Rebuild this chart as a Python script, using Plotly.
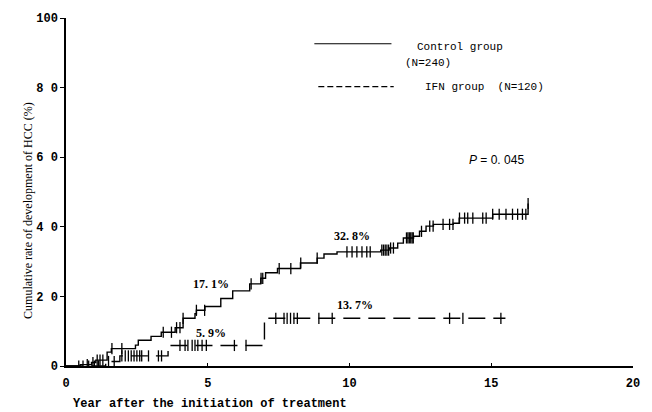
import plotly.graph_objects as go
import numpy as np

# Control group: step times (years) and cumulative rate (%) after each step
ctrl_t = [0, 0.5, 0.9, 1.05, 1.45, 1.6, 2.45, 2.55, 3.0, 3.36, 3.85, 4.13, 4.55, 4.6, 4.9,
          5.46, 5.88, 6.48, 6.87, 7.04, 7.46, 8.27, 8.86, 9.1, 9.56, 11.1, 11.4, 11.7, 11.9,
          12.26, 12.47, 12.7, 12.96, 13.66, 13.87, 15.05, 16.3]
ctrl_y = [0, 0.4, 1.0, 1.7, 4.0, 5.0, 6.0, 7.4, 8.5, 9.7, 11.0, 13.7, 15.0, 16.0, 17.1,
          19.4, 21.6, 23.6, 25.2, 26.8, 28.0, 29.6, 31.0, 32.2, 32.8, 33.3, 33.9, 35.3, 36.8,
          37.3, 38.7, 40.2, 40.7, 41.0, 42.5, 43.6, 46.7]
ctrl_cens = [0.45, 0.75, 0.95, 1.1, 1.2, 1.3, 1.62, 1.97, 3.43, 3.72, 3.9, 4.02, 4.13, 4.6, 4.89,
             6.53, 6.88, 6.94, 7.52, 7.93, 8.28, 8.86, 9.91, 10.09, 10.26, 10.44, 10.61, 10.73,
             11.14, 11.2, 11.26, 11.32, 11.38, 11.45, 11.55, 12.01, 12.06, 12.11, 12.16, 12.21,
             12.25, 12.54, 12.83, 12.95, 13.3, 13.53, 13.65, 13.88, 14.06, 14.17, 14.35, 14.7,
             14.82, 15.05, 15.28, 15.52, 15.75, 15.93, 16.1, 16.22, 16.3]

# IFN group
ifn_t = [0, 1.4, 1.9, 3.6, 7.0, 15.5]
ifn_y = [0, 1.3, 2.9, 5.9, 13.7, 13.7]
ifn_cens = [0.6, 0.8, 1.0, 1.15, 1.5, 1.7, 1.97, 2.09, 2.2, 2.3, 2.4, 2.5, 2.6, 2.67, 2.91,
            3.26, 3.37, 4.02, 4.2, 4.3, 4.45, 4.55, 4.65, 4.8, 4.95, 5.94, 6.35, 7.4, 7.69,
            7.8, 7.92, 8.04, 8.16, 8.92, 9.39, 13.53, 14.0, 15.34]

x_ticks = [0, 5, 10, 15, 20]
y_ticks = [0, 20, 40, 60, 80, 100]
y_ticktext = ['0', '2 0', '4 0', '6 0', '8 0', '100']


def step_value(ts, ys, t):
    i = np.searchsorted(ts, t, side='right') - 1
    return ys[max(i, 0)]


mono = 'Liberation Mono'
fig = go.Figure()

fig.add_trace(go.Scatter(x=ctrl_t, y=ctrl_y, mode='lines', line=dict(color='black', width=1.4, shape='hv'),
                         showlegend=False))
fig.add_trace(go.Scatter(x=ctrl_cens, y=[step_value(ctrl_t, ctrl_y, t) for t in ctrl_cens], mode='markers',
                         marker=dict(symbol='line-ns', size=8, line=dict(color='black', width=1.3)),
                         showlegend=False))
fig.add_trace(go.Scatter(x=ifn_t, y=ifn_y, mode='lines',
                         line=dict(color='black', width=1.4, shape='hv', dash='17px,8px'),
                         showlegend=False))
fig.add_trace(go.Scatter(x=ifn_cens, y=[step_value(ifn_t, ifn_y, t) for t in ifn_cens], mode='markers',
                         marker=dict(symbol='line-ns', size=8, line=dict(color='black', width=1.3)),
                         showlegend=False))

# legend drawn by hand
fig.add_shape(type='line', xref='paper', yref='paper', x0=0.438, x1=0.574, y0=0.926, y1=0.926,
              line=dict(color='black', width=1.2))
fig.add_shape(type='line', xref='paper', yref='paper', x0=0.445, x1=0.578, y0=0.803, y1=0.803,
              line=dict(color='black', width=1.2, dash='6px,3px'))
legend_txt = [
    ('Control group', 0.616, 0.917),
    ('(N=240)', 0.595, 0.872),
    ('IFN group  (N=120)', 0.630, 0.803),
]
for txt, xp, yp in legend_txt:
    fig.add_annotation(text=txt, x=xp, y=yp, xref='paper', yref='paper', xanchor='left', yanchor='middle',
                       showarrow=False, font=dict(family=mono, size=11, color='black'))

# rate labels
for txt, xv, yv in [('17. 1%', 5.1, 23.5), ('5. 9%', 5.1, 9.5), ('32. 8%', 10.1, 37.3), ('13. 7%', 10.2, 17.4)]:
    fig.add_annotation(text='<b>' + txt + '</b>', x=xv, y=yv, showarrow=False,
                       font=dict(family='Liberation Serif', size=12, color='black'))
fig.add_annotation(text='<i>P</i> = 0. 045', x=15.2, y=59.2, showarrow=False,
                   font=dict(family='Liberation Sans', size=12, color='black'))

fig.add_annotation(text='Cumulative rate of development of HCC (%)', x=-0.082, y=0.447, xref='paper',
                   yref='paper', textangle=-90, showarrow=False,
                   font=dict(family='Liberation Serif', size=12, color='black'))
fig.add_annotation(text='<b>Year after the initiation of treatment</b>', x=0.009, y=-0.108, xref='paper',
                   yref='paper', xanchor='left', yanchor='middle', showarrow=False,
                   font=dict(family=mono, size=12, color='black'))

fig.update_layout(
    width=652, height=412, plot_bgcolor='white', paper_bgcolor='white',
    margin=dict(l=66, r=17, t=15, b=46),
    xaxis=dict(range=[0, 20], tickvals=x_ticks, showgrid=False, zeroline=False, showline=True,
               linecolor='black', linewidth=1.5, ticks='inside', ticklen=3, tickcolor='black',
               ticklabelstandoff=5,
               tickfont=dict(family=mono, size=12, color='black', weight='bold')),
    yaxis=dict(range=[0, 100], tickvals=y_ticks, ticktext=y_ticktext, showgrid=False, zeroline=False,
               showline=True, linecolor='black', linewidth=1.5, ticks='outside', ticklen=4,
               tickcolor='black', tickfont=dict(family=mono, size=12, color='black', weight='bold')),
    showlegend=False,
)

fig.write_html("out.html", config={'displayModeBar': False},
               post_script="document.body.style.margin='0';")
